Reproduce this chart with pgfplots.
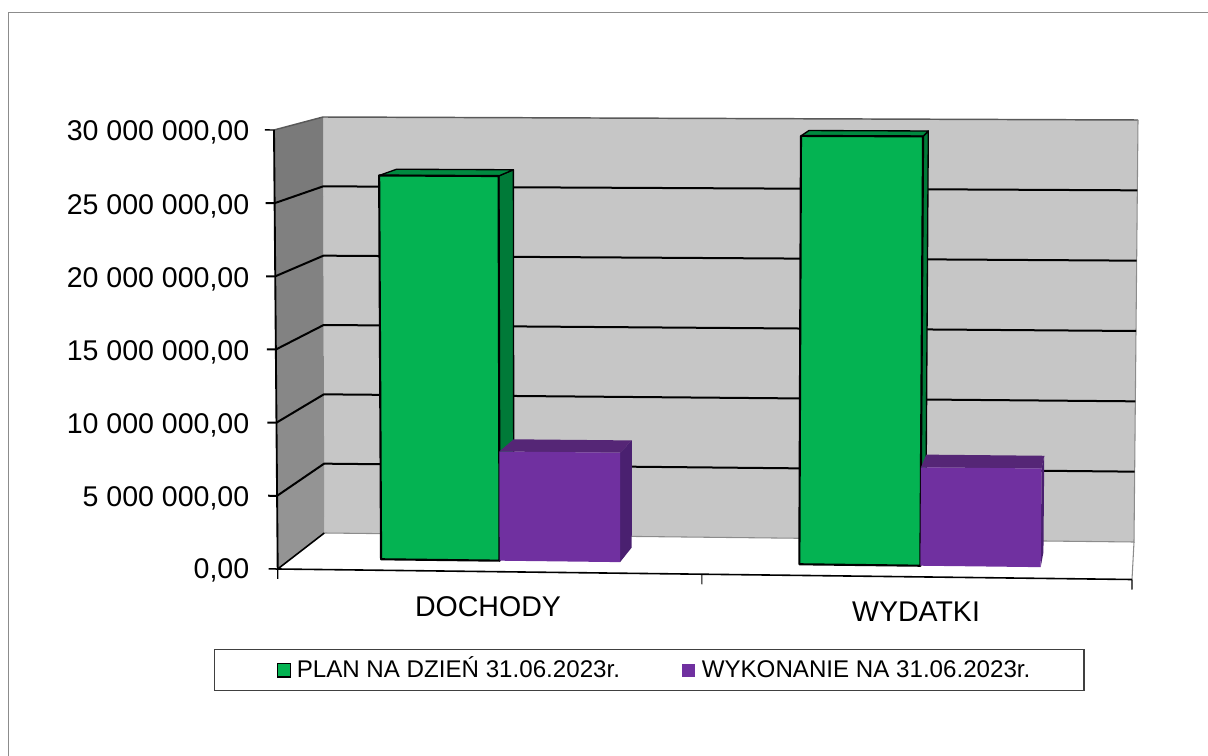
\documentclass[border=0pt]{standalone}
\usepackage{pgfplots}
\pgfplotsset{compat=1.18}
\usepackage{fontspec}
\setmainfont{Liberation Sans}
\definecolor{gwall}{HTML}{C6C6C6}
\definecolor{pgreen}{HTML}{04B352}
\definecolor{pgreenS}{HTML}{007A38}
\definecolor{pgreenT}{HTML}{008A40}
\definecolor{ppurple}{HTML}{7030A0}
\definecolor{ppurpleS}{HTML}{4A2070}
\definecolor{ppurpleT}{HTML}{552676}
\definecolor{frameg}{HTML}{8C8C8C}
% u = position along the category axis (0..1), d = depth (0 front .. 1 back), v = value
\newcommand{\face}[2]{\addplot[#1] table[row sep=\\,
  x expr={px(\thisrow{u},\thisrow{d},\thisrow{v}/30000000)},
  y expr={py(\thisrow{u},\thisrow{d},\thisrow{v}/30000000)}] {u d v\\ #2} --cycle;}
\newcommand{\seg}[2]{\addplot[#1] table[row sep=\\,
  x expr={px(\thisrow{u},\thisrow{d},\thisrow{v}/30000000)},
  y expr={py(\thisrow{u},\thisrow{d},\thisrow{v}/30000000)}] {u d v\\ #2};}
\newcommand{\wallband}[3]{\face{fill=black!#3,draw=none}{0 0 #1\\0 1 #1\\0 1 #2\\0 0 #2\\}}
\newcommand{\gridline}[1]{\seg{black,line width=1.5pt}{-0.0105 0 #1\\0 0 #1\\0 1 #1\\1 1 #1\\}}
% \barbox{u0}{u1}{value}{front}{side}{top}{outline}
\newcommand{\barbox}[7]{%
  \face{fill=#5,draw=#7,line width=1pt,line join=round}{#2 0.3 0\\#2 0.7 0\\#2 0.7 #3\\#2 0.3 #3\\}
  \face{fill=#6,draw=#7,line width=1pt,line join=round}{#1 0.3 #3\\#2 0.3 #3\\#2 0.7 #3\\#1 0.7 #3\\}
  \face{fill=#4,draw=#7,line width=1.6pt,line join=round}{#1 0.3 0\\#2 0.3 0\\#2 0.3 #3\\#1 0.3 #3\\}
}
\newcommand{\ylab}[2]{\node[anchor=base east,inner sep=0pt,font=\fontsize{21.4}{24}\selectfont] at (axis cs:249.5,#1) {#2};}
\begin{document}
\begin{tikzpicture}
\begin{axis}[
  scale only axis, width=906pt, height=567pt,
  xmin=0, xmax=1208, ymin=0, ymax=756, y dir=reverse,
  hide axis, clip=true,
  declare function={
    lin(\a,\b,\c)=(1-\c)*\a+\c*\b;
    pxb(\p,\q)=lin(lin(277.7,1132,\p),lin(324.3,1134,\p),\q);
    pxt(\p,\q)=lin(lin(274,1137,\p),lin(323,1138,\p),\q);
    pyb(\p,\q)=lin(lin(569,579.5,\p),lin(533,542,\p),\q);
    pyt(\p,\q)=lin(lin(130,133,\p),lin(117,120,\p),\q);
    px(\p,\q,\r)=lin(pxb(\p,\q),pxt(\p,\q),\r);
    py(\p,\q,\r)=lin(pyb(\p,\q),pyt(\p,\q),\r);
  },
]
% page extent
\path (axis cs:0,0) rectangle (axis cs:1208,756);
% outer frame
\addplot[frameg,line width=1pt] coordinates {(8.5,756) (8.5,12.5) (1208,12.5)};
% back wall
\face{fill=gwall,draw=none}{0 1 0\\1 1 0\\1 1 30000000\\0 1 30000000\\}
% left wall, darker towards the top
\wallband{0}{5000000}{42}
\wallband{5000000}{10000000}{45}
\wallband{10000000}{15000000}{47}
\wallband{15000000}{20000000}{49}
\wallband{20000000}{25000000}{50}
\wallband{25000000}{30000000}{52}
% wall outlines
\seg{black!65,line width=1.1pt}{0 0 30000000\\0 1 30000000\\1 1 30000000\\}
\seg{black!45,line width=0.8pt}{1 1 30000000\\1 1 0\\0 1 0\\}
\seg{black!45,line width=0.8pt}{1 1 0\\1 0 0\\}
% gridlines
\gridline{5000000}
\gridline{10000000}
\gridline{15000000}
\gridline{20000000}
\gridline{25000000}
\seg{black,line width=1.1pt}{-0.0105 0 30000000\\0 0 30000000\\}
\seg{black,line width=1.1pt}{-0.0105 0 0\\0 0 0\\}
% floor and axis lines
\seg{black,line width=1.2pt}{0 1 0\\0 0 0\\1 0 0\\}
\seg{black,line width=1.4pt}{0 0 30000000\\0 0 0\\}
\seg{black,line width=0.9pt}{0 0 0\\0 0 -680000\\}
\seg{black,line width=0.9pt}{0.4965 0 0\\0.4965 0 -680000\\}
\seg{black,line width=0.9pt}{1 0 0\\1 0 -680000\\}
% bars
\barbox{0.1063}{0.2472}{26600000}{pgreen}{pgreenS}{pgreenT}{black}
\barbox{0.2472}{0.3905}{7550000}{ppurple}{ppurpleS}{ppurpleT}{none}
\barbox{0.6037}{0.7476}{29450000}{pgreen}{pgreenS}{pgreenT}{black}
\barbox{0.7476}{0.8907}{6750000}{ppurple}{ppurpleS}{ppurpleT}{none}
% value labels
\ylab{141}{30 000 000,00}
\ylab{214.5}{25 000 000,00}
\ylab{287}{20 000 000,00}
\ylab{360}{15 000 000,00}
\ylab{433}{10 000 000,00}
\ylab{506}{5 000 000,00}
\ylab{578.5}{0,00}
% category labels
\node[anchor=base,inner sep=0pt,font=\fontsize{21.4}{24}\selectfont] at (axis cs:488,616.5) {DOCHODY};
\node[anchor=base,inner sep=0pt,font=\fontsize{21.4}{24}\selectfont] at (axis cs:916,621.7) {WYDATKI};
% legend
\addplot[draw=black!75,line width=1.1pt,fill=white] coordinates {(214.7,649.5) (1084,649.5) (1084,690.7) (214.7,690.7)} --cycle;
\addplot[draw=black,line width=1.3pt,fill=pgreen] coordinates {(277.5,663.5) (290.5,663.5) (290.5,677) (277.5,677)} --cycle;
\addplot[draw=none,fill=ppurple] coordinates {(682.3,664) (695,664) (695,677) (682.3,677)} --cycle;
\node[anchor=base west,inner sep=0pt,font=\fontsize{18.1}{20}\selectfont] at (axis cs:296.5,677.3) {PLAN NA DZIEŃ 31.06.2023r.};
\node[anchor=base west,inner sep=0pt,font=\fontsize{18.1}{20}\selectfont] at (axis cs:701.5,677.3) {WYKONANIE NA 31.06.2023r.};
\end{axis}
\end{tikzpicture}
\end{document}
